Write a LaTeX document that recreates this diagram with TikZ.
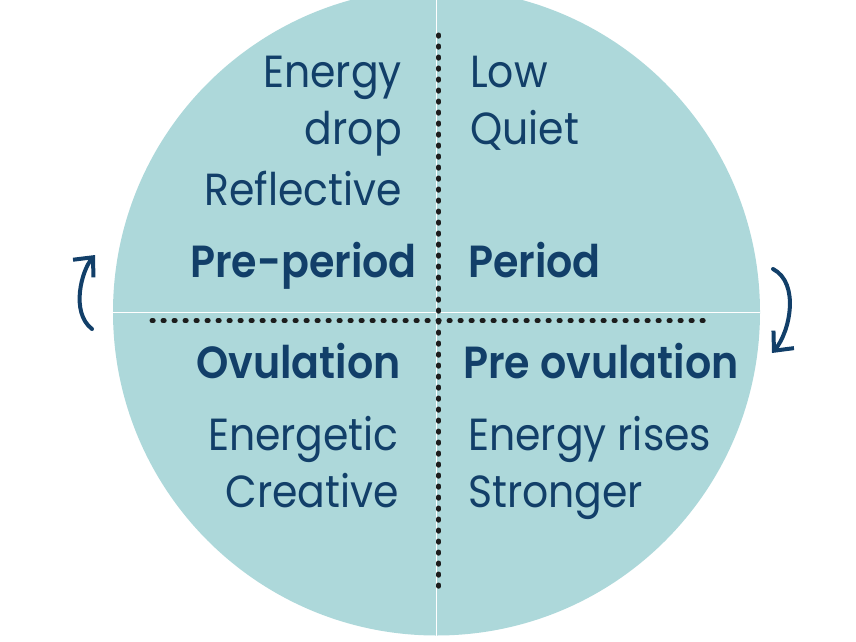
\documentclass[tikz,border=0pt]{standalone}
\usepackage{fontspec}
\setmainfont{Poppins}[FakeStretch=0.91, BoldFont={* SemiBold}, BoldFeatures={FakeStretch=0.915}]
\usetikzlibrary{arrows.meta}
\definecolor{circleteal}{HTML}{ADD8DA}
\definecolor{phasenavy}{HTML}{123F69}
\definecolor{dotblack}{HTML}{1C1C1C}
\tikzset{
  >={Straight Barb[length=15pt,width=27pt]},
  quadtext/.style={font=\fontsize{45}{52}\selectfont, text=phasenavy, inner sep=0pt},
  phasetext/.style={quadtext, font=\fontsize{45}{52}\selectfont\bfseries},
  dotline/.style={draw=dotblack, line width=5pt, line cap=round, dash pattern=on 1.2pt off 9.8pt},
  turnarrow/.style={draw=phasenavy, line width=4pt, line cap=round, ->}
}

\begin{document}
\begin{tikzpicture}[x=1pt,y=-1pt]
    \useasboundingbox (0,0) rectangle (856,642);
    \clip (0,0) rectangle (856,642);
    % the cycle disc
    \fill[circleteal] (436.5,312) circle[radius=323.5pt];
    \draw[white, line width=1pt] (436,-12) -- (436,636);
    \draw[white, line width=1pt] (113,312) -- (760,312);
    \draw[dotline] (438.7,35) -- (438.7,592);
    \draw[dotline] (152,320.7) -- (707,320.7);
    % quadrant texts
    \node[quadtext, anchor=base east] (energy) at (402,87) {Energy};
    \node[quadtext, anchor=base east] (drop) at (402,144) {drop};
    \node[quadtext, anchor=base east] (reflective) at (402,205) {Reflective};
    \node[phasetext, anchor=base east] (preperiod) at (417,277) {Pre-period};
    \node[quadtext, anchor=base west] (low) at (470,87) {Low};
    \node[quadtext, anchor=base west] (quiet) at (470,144) {Quiet};
    \node[phasetext, anchor=base west] (period) at (468,277) {Period};
    \node[phasetext, anchor=base east] (ovulation) at (401,378) {Ovulation};
    \node[phasetext, anchor=base west] (preovulation) at (463,378) {Pre ovulation};
    \node[quadtext, anchor=base east] (energetic) at (399,450) {Energetic};
    \node[quadtext, anchor=base east] (creative) at (399,507) {Creative};
    \node[quadtext, anchor=base west] (energyrises) at (468,450) {Energy rises};
    \node[quadtext, anchor=base west] (stronger) at (468,507) {Stronger};
    % turning arrows
    \coordinate (lstart) at (92,329);
    \coordinate (ltip) at (95,255);
    \coordinate (rstart) at (773,269);
    \coordinate (rtip) at (772,353);
    \draw[turnarrow] (lstart) .. controls (70,312) and (82,270) .. (ltip);
    \draw[turnarrow] (rstart) .. controls (800,283) and (790,332) .. (rtip);
  \end{tikzpicture}
\end{document}
